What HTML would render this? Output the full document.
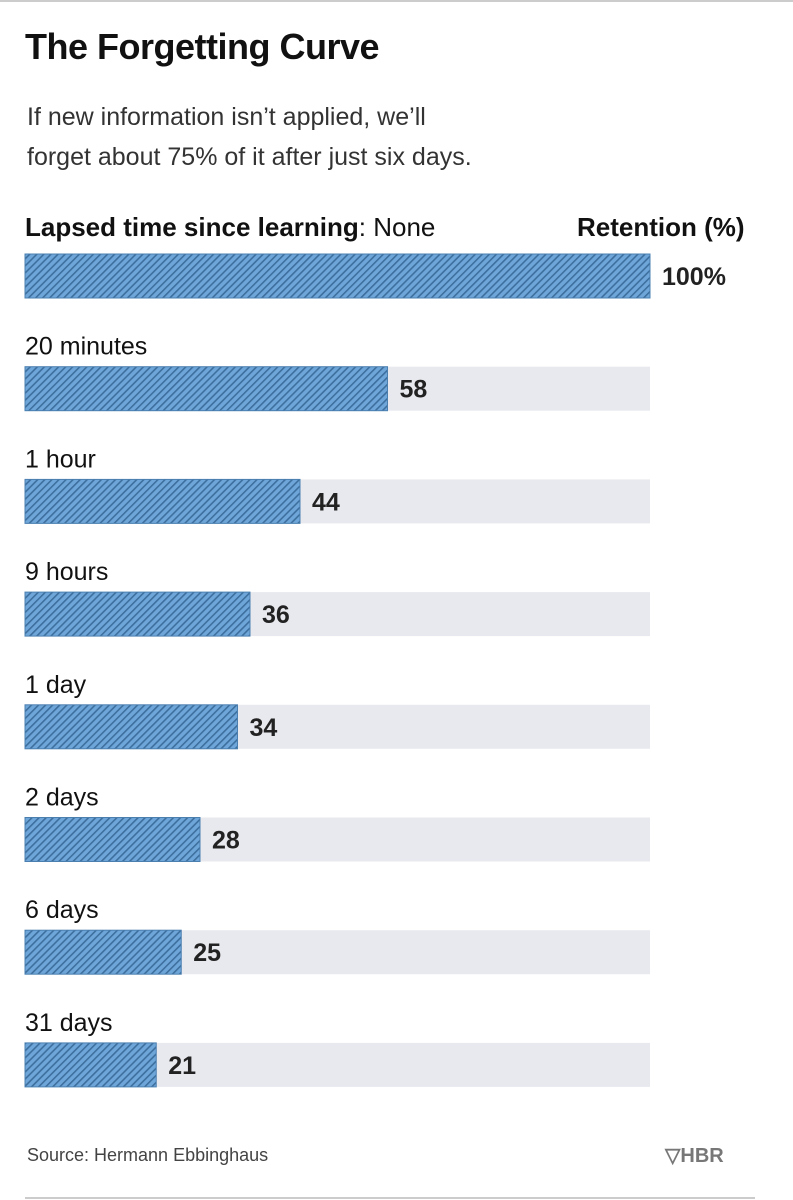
<!DOCTYPE html>
<html><head><meta charset="utf-8"><style>
body{margin:0;width:793px;height:1200px;background:#fff;font-family:"Liberation Sans Narrow","Liberation Sans",sans-serif;color:#111;position:relative;overflow:hidden}
.abs{position:absolute;white-space:nowrap}
</style></head><body>
<div class="abs" style="left:0;top:0;width:793px;height:2px;background:#ccc"></div>
<div class="abs" style="left:25px;top:26px;font-family:'Liberation Sans',sans-serif;font-weight:bold;font-size:36px;letter-spacing:-0.5px">The Forgetting Curve</div>
<div class="abs" style="left:27px;top:97px;font-family:'Liberation Sans',sans-serif;font-size:25px;line-height:40px;color:#333">If new information isn’t applied, we’ll<br>forget about 75% of it after just six days.</div>
<div class="abs" style="left:25px;top:212px;font-size:26px"><b>Lapsed time since learning</b>: None</div>
<div class="abs" style="left:577px;top:212px;font-size:26px;font-weight:bold">Retention (%)</div>
<svg class="abs" style="left:0;top:0" width="793" height="1200" id="chart">
<defs><pattern id="hatch" width="5" height="5" patternUnits="userSpaceOnUse" patternTransform="rotate(45)">
<rect width="5" height="5" fill="#6fa6d9"/><rect width="1.6" height="5" fill="#3d6f9e"/></pattern></defs>
</svg>
<div class="abs" style="left:27px;top:1145px;font-family:'Liberation Sans',sans-serif;font-size:18px;color:#444">Source: Hermann Ebbinghaus</div>
<div class="abs" style="left:665px;top:1143px;font-family:'Liberation Sans',sans-serif;font-weight:bold;font-size:20px;color:#777">&#9661;HBR</div>
<div class="abs" style="left:25px;top:1197px;width:730px;height:2px;background:#ccc"></div>
<script>
const categories=["None","20 minutes","1 hour","9 hours","1 day","2 days","6 days","31 days"];
const values=[100,58,44,36,34,28,25,21];
const valueLabels=["100%","58","44","36","34","28","25","21"];
const svg=document.getElementById('chart');
const NS='http://www.w3.org/2000/svg';
const x0=25,w=625,y0=254,step=112.7,h=44;
const xs=v=>x0+w*v/100;
const ys=i=>y0+i*step;
values.forEach((v,i)=>{
  const bg=document.createElementNS(NS,'rect');
  
  
  bg.setAttribute('x',x0);bg.setAttribute('y',ys(i));bg.setAttribute('width',w);bg.setAttribute('height',h);bg.setAttribute('fill','#e8e9ee');
  svg.appendChild(bg);
  const r=document.createElementNS(NS,'rect');
  
  
  r.setAttribute('x',x0);r.setAttribute('y',ys(i));r.setAttribute('width',xs(v)-x0);r.setAttribute('height',h);r.setAttribute('fill','url(#hatch)');r.setAttribute('stroke','#4a7fb0');r.setAttribute('stroke-width','1');
  svg.appendChild(r);
  const t=document.createElementNS(NS,'text');
  
  
  t.setAttribute('x',xs(v)+12);t.setAttribute('y',ys(i)+h/2+9);
  t.setAttribute('font-size','25');t.setAttribute('font-weight','bold');t.setAttribute('fill','#222');
  t.setAttribute('font-family','"Liberation Sans Narrow","Liberation Sans",sans-serif');
  t.textContent=valueLabels[i];
  svg.appendChild(t);
  if(i>0){
    const c=document.createElementNS(NS,'text');
    
    
    c.setAttribute('x',x0);c.setAttribute('y',ys(i)-12);
    c.setAttribute('font-size','25');c.setAttribute('fill','#111');
    c.setAttribute('font-family','"Liberation Sans Narrow","Liberation Sans",sans-serif');
    c.textContent=categories[i];
    svg.appendChild(c);
  }
});
</script>
</body></html>
